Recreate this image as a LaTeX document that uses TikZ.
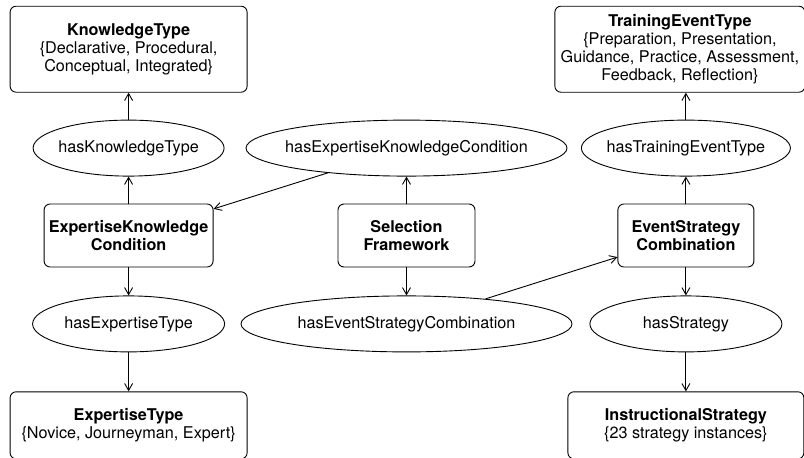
\documentclass[tikz,border=0pt]{standalone}
\usepackage{fontspec}
\setmainfont{TeX Gyre Heros}
\usetikzlibrary{positioning, shapes.geometric, arrows.meta}
\begin{document}
\begin{tikzpicture}[
  x=1pt, y=1pt,
  font=\fontsize{16.2}{18.3}\selectfont,
  cls/.style={draw, line width=0.9pt, rounded corners=6pt, align=center, inner sep=0pt},
  prop/.style={draw, line width=0.9pt, ellipse, align=center, inner ysep=0pt, inner xsep=-20pt, minimum height=56pt},
  link/.style={-{Straight Barb[length=7pt, width=8pt]}, line width=0.9pt},
]
\useasboundingbox (0,0) rectangle (804,-458);

\node[cls, minimum width=137pt, minimum height=63pt] (sf) at (406.5,-235.5) {\textbf{Selection}\\\textbf{Framework}};
\node[prop, minimum width=321pt, above=27pt of sf] (hekc) {hasExpertiseKnowledgeCondition};
\node[prop, minimum width=331pt, below=28pt of sf] (hesc) {hasEventStrategyCombination};

\node[cls, minimum width=169pt, minimum height=63pt, left=124pt of sf] (ekc) {\textbf{ExpertiseKnowledge}\\\textbf{Condition}};
\node[prop, minimum width=191pt, above=27pt of ekc] (hkt) {hasKnowledgeType};
\node[cls, minimum width=237pt, minimum height=86pt, above=27pt of hkt] (kt) {\textbf{KnowledgeType}\\\{Declarative, Procedural,\\Conceptual, Integrated\}};
\node[prop, minimum width=192pt, below=28pt of ekc] (het) {hasExpertiseType};
\node[cls, minimum width=237pt, minimum height=67pt, below=39pt of het] (et) {\textbf{ExpertiseType}\\\{Novice, Journeyman, Expert\}};

\node[cls, minimum width=136pt, minimum height=63pt, right=142pt of sf] (esc) {\textbf{EventStrategy}\\\textbf{Combination}};
\node[prop, minimum width=209pt, above=27pt of esc] (htet) {hasTrainingEventType};
\node[cls, minimum width=250pt, minimum height=86pt, above=27pt of htet, xshift=-6pt] (tet) {\textbf{TrainingEventType}\\\{Preparation, Presentation,\\Guidance, Practice, Assessment,\\Feedback, Reflection\}};
\node[prop, minimum width=192pt, below=28pt of esc] (hs) {hasStrategy};
\node[cls, minimum width=236pt, minimum height=67pt, below=39pt of hs] (is) {\textbf{InstructionalStrategy}\\\{23 strategy instances\}};

\draw[link] (hkt) -- (kt);
\draw[link] (ekc) -- (hkt);
\draw[link] (ekc) -- (het);
\draw[link] (het) -- (et);
\draw[link] (hekc) -- (ekc);
\draw[link] (sf) -- (hekc);
\draw[link] (sf) -- (hesc);
\draw[link] (hesc) -- (esc);
\draw[link] (esc) -- (htet);
\draw[link] (htet.north) -- (htet.north |- tet.south);
\draw[link] (esc) -- (hs);
\draw[link] (hs) -- (is);
\end{tikzpicture}
\end{document}
